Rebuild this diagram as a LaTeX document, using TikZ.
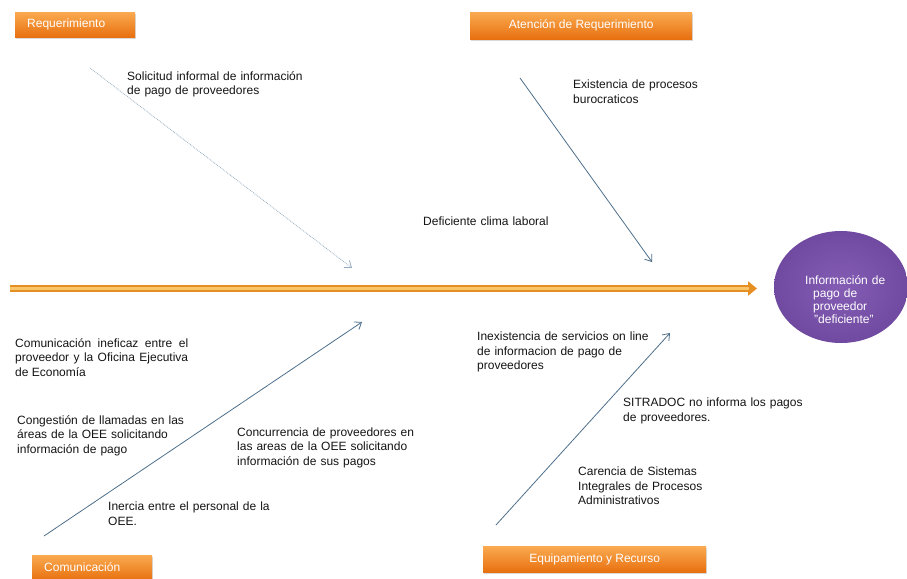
\documentclass[tikz,border=0pt]{standalone}
\usepackage{fontspec}
\setmainfont{Liberation Sans}
\usetikzlibrary{arrows.meta,shadows,shapes.geometric}
\definecolor{orangeTop}{RGB}{250,170,80}
\definecolor{orangeBot}{RGB}{232,112,15}
\definecolor{causeline}{RGB}{78,110,138}
\definecolor{causefaint}{RGB}{150,172,190}
\definecolor{spineOut}{RGB}{228,142,36}
\definecolor{spineIn}{RGB}{250,196,105}
\definecolor{purpleIn}{RGB}{132,92,180}
\definecolor{purpleOut}{RGB}{112,74,160}
\definecolor{txtcol}{RGB}{20,20,20}
\begin{document}
\begin{tikzpicture}[x=1pt,y=-1pt,
  catbox/.style={draw=none, top color=orangeTop, bottom color=orangeBot, text=white,
    font=\fontsize{12}{14}\selectfont, anchor=north west, inner ysep=0pt,
    text height=8.6pt, text depth=2pt,
    drop shadow={opacity=0.3, shadow xshift=1pt, shadow yshift=-2pt}},
  catleft/.style={catbox, inner xsep=12pt, text width=96pt, align=left},
  txt/.style={anchor=base west, inner sep=0pt, text=txtcol, align=left,
    text width=220pt, font=\fontsize{12}{14.5}\selectfont},
  cause/.style={draw=causeline, line width=0.8pt, -{Straight Barb[length=6pt,width=9pt]}},
  causelight/.style={draw=causefaint, line width=0.8pt, densely dotted, -{Straight Barb[length=6pt,width=9pt]}}
]
\useasboundingbox (0,0) rectangle (907,578);

% category boxes
\node[catleft, minimum height=25pt] (req) at (15,12) {Requerimiento};
\node[catbox, minimum width=222pt, minimum height=27pt] (aten) at (470,12) {Atención de Requerimiento};
\node[catleft, minimum height=25pt] (com) at (32,555) {Comunicación};
\node[catbox, minimum width=223pt, minimum height=26pt] (equip) at (483,546) {Equipamiento y Recurso};

% effect
\node[ellipse, minimum width=134pt, minimum height=112pt, inner color=purpleIn, outer color=purpleOut] (effect) at (841,287) {};
\node[anchor=base west, inner sep=0pt, text=white, align=left, text width=100pt,
  font=\fontsize{12}{13.3}\selectfont] (effecttext) at (813,284)
  {\hspace*{-8pt}Información de\\pago de\\proveedor\\\hspace*{1pt}"deficiente"};

% spine
\coordinate (spineL) at (10,288.5);
\coordinate (spineR) at (757,288.5);
\coordinate (spineRi) at (749,288.5);
\draw[line width=7pt, spineOut, -{Triangle[length=9pt,width=14pt]}] (spineL) -- (spineR);
\draw[line width=2.5pt, spineIn] (spineL) -- (spineRi);

% cause arrows
\coordinate (c1s) at (90,68);   \coordinate (c1e) at (352,268);
\coordinate (c2s) at (520,78);  \coordinate (c2e) at (652,262);
\coordinate (c3s) at (44,536);  \coordinate (c3e) at (362,322);
\coordinate (c4s) at (496,525); \coordinate (c4e) at (670,333);
\draw[causelight] (c1s) -- (c1e);
\draw[cause] (c2s) -- (c2e);
\draw[cause] (c3s) -- (c3e);
\draw[cause] (c4s) -- (c4e);

% texts
\node[txt] (t1) at (127,80) {Solicitud informal de información\\de pago de proveedores};
\node[txt] (t2) at (573,88.5) {Existencia de procesos\\burocraticos};
\node[txt] (t3) at (423,225.5) {Deficiente clima laboral};
\node[txt, text width=173pt, align=justify] (t4) at (15,347) {Comunicación ineficaz entre el\linebreak proveedor y la Oficina Ejecutiva\linebreak de Economía};
\node[txt] (t5) at (17,424) {Congestión de llamadas en las\\áreas de la OEE solicitando\\información de pago};
\node[txt] (t6) at (237,436) {Concurrencia de proveedores en\\las areas de la OEE solicitando\\información de sus pagos};
\node[txt] (t7) at (108,510.5) {Inercia entre el personal de la\\OEE.};
\node[txt] (t8) at (477,340.5) {Inexistencia de servicios on line\\de informacion de pago de\\proveedores};
\node[txt] (t9) at (623,406.5) {SITRADOC no informa los pagos\\de proveedores.};
\node[txt] (t10) at (578,475.5) {Carencia de Sistemas\\Integrales de Procesos\\Administrativos};
\end{tikzpicture}
\end{document}
